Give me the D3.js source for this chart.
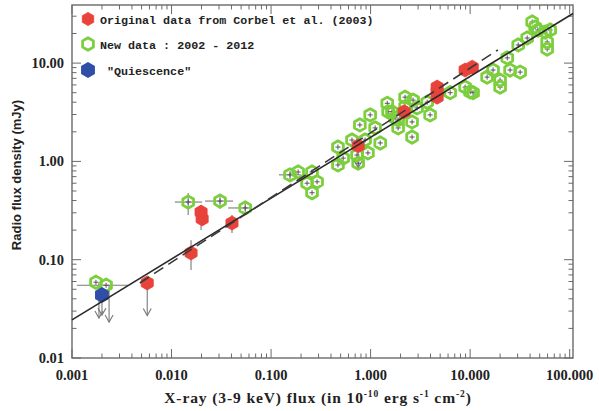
<!DOCTYPE html>
<html><head><meta charset="utf-8">
<script src="https://cdn.jsdelivr.net/npm/d3@7"></script>
<style>body{margin:0;background:#fff}</style>
</head><body><svg id="c" width="599" height="411"></svg>
<script>
// ---- tick data ----
const xTickValues = [0.001, 0.01, 0.1, 1, 10, 100];
const xTickLabels = ["0.001", "0.010", "0.100", "1.000", "10.000", "100.000"];
const yTickValues = [0.01, 0.1, 1, 10];
const yTickLabels = ["0.01", "0.10", "1.00", "10.00"];

// ---- original data (Corbel et al. 2003) ----
const origX  = [0.0057, 0.0157, 0.0198, 0.0203, 0.0405, 0.75, 2.17, 4.66, 4.66, 4.66, 8.9, 10.5];
const origY  = [0.058, 0.117, 0.305, 0.26, 0.236, 1.44, 3.2, 5.7, 5.1, 4.5, 8.5, 9.1];
const origYLo = [null, 0.0785, 0.20, null, 0.187, null, null, null, null, null, null, null];
const origYHi = [null, 0.158, 0.36, null, 0.285, null, null, null, null, null, null, null];
const origLimit = [0.027, null, null, null, null, 0.86, null, null, null, null, null, null];

// ---- new data 2002-2012 ----
const newX = [0.00174, 0.0022, 0.0147, 0.0307, 0.055,
  0.155, 0.187, 0.258, 0.230, 0.290, 0.258, 0.47,
  0.47, 0.53, 0.65, 0.78, 0.99, 0.73, 0.75, 0.94, 0.88, 1.11, 1.25,
  1.47, 1.50, 1.64, 1.76, 1.89, 1.89, 2.61, 2.22, 2.22, 2.67, 2.93, 3.70, 3.96, 2.61,
  6.3, 8.9, 10.0, 10.7, 14.8, 17.0, 20.0, 20.0, 25.2, 31.8, 23.6, 30.4, 37.4,
  42, 45, 48, 56.7, 63.7, 59.4, 59.4];
const newY = [0.059, 0.055, 0.386, 0.395, 0.336,
  0.73, 0.78, 0.78, 0.60, 0.62, 0.48, 0.92,
  1.40, 1.08, 1.65, 2.35, 2.97, 1.16, 0.96, 1.22, 1.65, 2.19, 1.54,
  3.9, 3.2, 3.2, 2.77, 2.19, 2.64, 1.77, 4.5, 3.6, 4.2, 3.5, 4.0, 2.97, 2.52,
  5.0, 5.7, 5.1, 5.0, 7.2, 8.5, 6.7, 5.7, 8.5, 8.1, 11.3, 15.3, 18.0,
  26.2, 23.3, 21.7, 20.7, 21.7, 16.4, 13.9];
// explicit error bars for the low-flux points
const newErrIndex = [1, 2, 3, 4, 5];
const newXLo = [0.00112, 0.0108, 0.0217, 0.037, 0.12];
const newXHi = [0.00366, 0.0203, 0.0415, 0.0615, 0.20];
const newYLo = [null, 0.285, 0.33, 0.30, 0.66];
const newYHi = [null, 0.478, 0.47, 0.38, 0.80];
const newLimitIndex = [0, 1];
const newLimit = [0.0255, 0.0232];

// ---- quiescence ----
const quiX = [0.002];
const quiY = [0.0437];
const quiLimit = [0.0273];

// ---- fits ----
const fitSolidX = [0.001, 108];
const fitSolidY = [0.0244, 32];
const fitDashX = [0.0048, 19];
const fitDashY = [0.058, 13.6];

const legendLabels = ["Original data from Corbel et al. (2003)", "New data : 2002 - 2012", "\"Quiescence\""];

// ---- drawing ----
const svg = d3.select("#c");
const L = 72, R = 573, T = 5, B = 358;
const x = d3.scaleLog().domain([0.001, 108]).range([L, R]);
const y = d3.scaleLog().domain([0.01, 39]).range([B, T]);

const axisCol = "#6a6a6a";
const green = "#7ccf3c", red = "#e8433a", blue = "#2f4ea8";

function hexPath(r) {
  const pts = d3.range(6).map(i => {
    const a = Math.PI / 6 + i * Math.PI / 3;
    return [r * Math.cos(a), r * Math.sin(a)];
  });
  return "M" + pts.map(p => p.join(",")).join("L") + "Z";
}

function logTicks(lo, hi) {
  const out = [];
  for (let e = Math.floor(Math.log10(lo)); e <= Math.ceil(Math.log10(hi)); e++) {
    for (let m = 1; m <= 9; m++) {
      const v = m * Math.pow(10, e);
      if (v >= lo * 0.999 && v <= hi * 1.001) out.push(v);
    }
  }
  return out;
}
const xt = logTicks(0.001, 108), yt = logTicks(0.01, 39);
const isMajor = v => Math.abs(Math.log10(v) - Math.round(Math.log10(v))) < 1e-6;

const gAx = svg.append("g").attr("stroke", axisCol).attr("stroke-width", 1);
xt.forEach(v => {
  const len = isMajor(v) ? 9 : 4.5;
  gAx.append("line").attr("x1", x(v)).attr("x2", x(v)).attr("y1", B).attr("y2", B - len);
  gAx.append("line").attr("x1", x(v)).attr("x2", x(v)).attr("y1", T).attr("y2", T + len);
});
yt.forEach(v => {
  const len = isMajor(v) ? 9 : 4.5;
  gAx.append("line").attr("y1", y(v)).attr("y2", y(v)).attr("x1", L).attr("x2", L + len);
  gAx.append("line").attr("y1", y(v)).attr("y2", y(v)).attr("x1", R).attr("x2", R - len);
});
svg.append("rect").attr("x", L).attr("y", T).attr("width", R - L).attr("height", B - T)
  .attr("fill", "none").attr("stroke", axisCol).attr("stroke-width", 1.4);

// tick labels
const tickFont = "'Liberation Serif', serif";
xTickValues.forEach((v, i) => {
  svg.append("text").attr("x", x(v)).attr("y", 380).attr("text-anchor", "middle")
    .attr("font-family", tickFont).attr("font-weight", "bold").attr("font-size", 14.5)
    .attr("fill", "#222").text(xTickLabels[i]);
});
yTickValues.forEach((v, i) => {
  svg.append("text").attr("x", 64).attr("y", y(v) + 5).attr("text-anchor", "end")
    .attr("font-family", tickFont).attr("font-weight", "bold").attr("font-size", 14.5)
    .attr("fill", "#222").text(yTickLabels[i]);
});

// axis titles
const xt1 = svg.append("text").attr("x", 318).attr("y", 403).attr("text-anchor", "middle")
  .attr("font-family", tickFont).attr("font-weight", "bold").attr("font-size", 15.5)
  .attr("letter-spacing", 0.9).attr("fill", "#222");
xt1.append("tspan").text("X-ray (3-9 keV) flux (in 10");
xt1.append("tspan").attr("dy", -6).attr("font-size", 9.5).text("-10");
xt1.append("tspan").attr("dy", 6).text(" erg s");
xt1.append("tspan").attr("dy", -6).attr("font-size", 9.5).text("-1");
xt1.append("tspan").attr("dy", 6).text(" cm");
xt1.append("tspan").attr("dy", -6).attr("font-size", 9.5).text("-2");
xt1.append("tspan").attr("dy", 6).text(")");

svg.append("text").attr("transform", "translate(21,175) rotate(-90)").attr("text-anchor", "middle")
  .attr("font-family", "'Liberation Sans', Arial, sans-serif").attr("font-weight", "bold")
  .attr("font-size", 13).attr("fill", "#222").text("Radio flux density (mJy)");

const errCol = "#7a7a7a";
const gE = svg.append("g").attr("stroke", errCol).attr("stroke-width", 1.1).attr("fill", "none");
function arrow(px, y0, y1) {
  gE.append("line").attr("x1", px).attr("x2", px).attr("y1", y0).attr("y2", y1);
  gE.append("path").attr("d", `M${px - 4},${y1 - 7}L${px},${y1}L${px + 4},${y1 - 7}`);
}

// new data error crosses + bars
const gC = svg.append("g").attr("stroke", "#555").attr("stroke-width", 1);
newX.forEach((v, i) => {
  const cx = x(v), cy = y(newY[i]);
  gC.append("line").attr("x1", cx - 2.5).attr("x2", cx + 2.5).attr("y1", cy).attr("y2", cy);
  gC.append("line").attr("x1", cx).attr("x2", cx).attr("y1", cy - 2.5).attr("y2", cy + 2.5);
});
newErrIndex.forEach((idx, k) => {
  const cy = y(newY[idx]), cx = x(newX[idx]);
  gE.append("line").attr("x1", x(newXLo[k])).attr("x2", x(newXHi[k])).attr("y1", cy).attr("y2", cy);
  if (newYLo[k] != null) gE.append("line").attr("x1", cx).attr("x2", cx).attr("y1", y(newYLo[k])).attr("y2", y(newYHi[k]));
});
newLimitIndex.forEach((idx, k) => arrow(x(newX[idx]) + 3, y(newY[idx]), y(newLimit[k])));
origX.forEach((v, i) => {
  const cx = x(v);
  if (origYLo[i] != null) gE.append("line").attr("x1", cx).attr("x2", cx).attr("y1", y(origYLo[i])).attr("y2", y(origYHi[i]));
  if (origLimit[i] != null) arrow(cx, y(origY[i]), y(origLimit[i]));
});
quiX.forEach((v, i) => arrow(x(v), y(quiY[i]), y(quiLimit[i])));

// markers
svg.append("g").selectAll("path").data(newX).join("path")
  .attr("d", hexPath(6.2)).attr("transform", (d, i) => `translate(${x(d)},${y(newY[i])})`)
  .attr("fill", "none").attr("stroke", green).attr("stroke-width", 2.8).attr("stroke-linejoin", "round");
svg.append("g").selectAll("path").data(origX).join("path")
  .attr("d", hexPath(7)).attr("transform", (d, i) => `translate(${x(d)},${y(origY[i])})`)
  .attr("fill", red).attr("stroke", red).attr("stroke-width", 0.8).attr("stroke-linejoin", "round");
svg.append("g").selectAll("path").data(quiX).join("path")
  .attr("d", hexPath(8)).attr("transform", (d, i) => `translate(${x(d)},${y(quiY[i])})`)
  .attr("fill", blue);

// fit lines
const line = d3.line().x(d => x(d[0])).y(d => y(d[1]));
svg.append("path").attr("d", line(fitSolidX.map((v, i) => [v, fitSolidY[i]])))
  .attr("stroke", "#2a2a2a").attr("stroke-width", 1.6).attr("fill", "none");
svg.append("path").attr("d", line(fitDashX.map((v, i) => [v, fitDashY[i]])))
  .attr("stroke", "#3a3a3a").attr("stroke-width", 1.6).attr("fill", "none").attr("stroke-dasharray", "11,6");

// legend
const legY = [19, 44, 70];
const legStyles = [{fill: red, stroke: red, r: 6.6, w: 0.8}, {fill: "none", stroke: green, r: 6.2, w: 2.8}, {fill: blue, stroke: "none", r: 8, w: 0}];
legendLabels.forEach((t, i) => {
  svg.append("path").attr("d", hexPath(legStyles[i].r)).attr("transform", `translate(88,${legY[i]})`)
    .attr("fill", legStyles[i].fill).attr("stroke", legStyles[i].stroke).attr("stroke-width", legStyles[i].w)
    .attr("stroke-linejoin", "round");
  svg.append("text").attr("x", i === 2 ? 107 : 100).attr("y", legY[i] + 4.5)
    .attr("font-family", "'Liberation Mono', 'Courier New', monospace").attr("font-weight", "bold")
    .attr("font-size", 11.7).attr("fill", "#222").text(t);
});
</script></body></html>
